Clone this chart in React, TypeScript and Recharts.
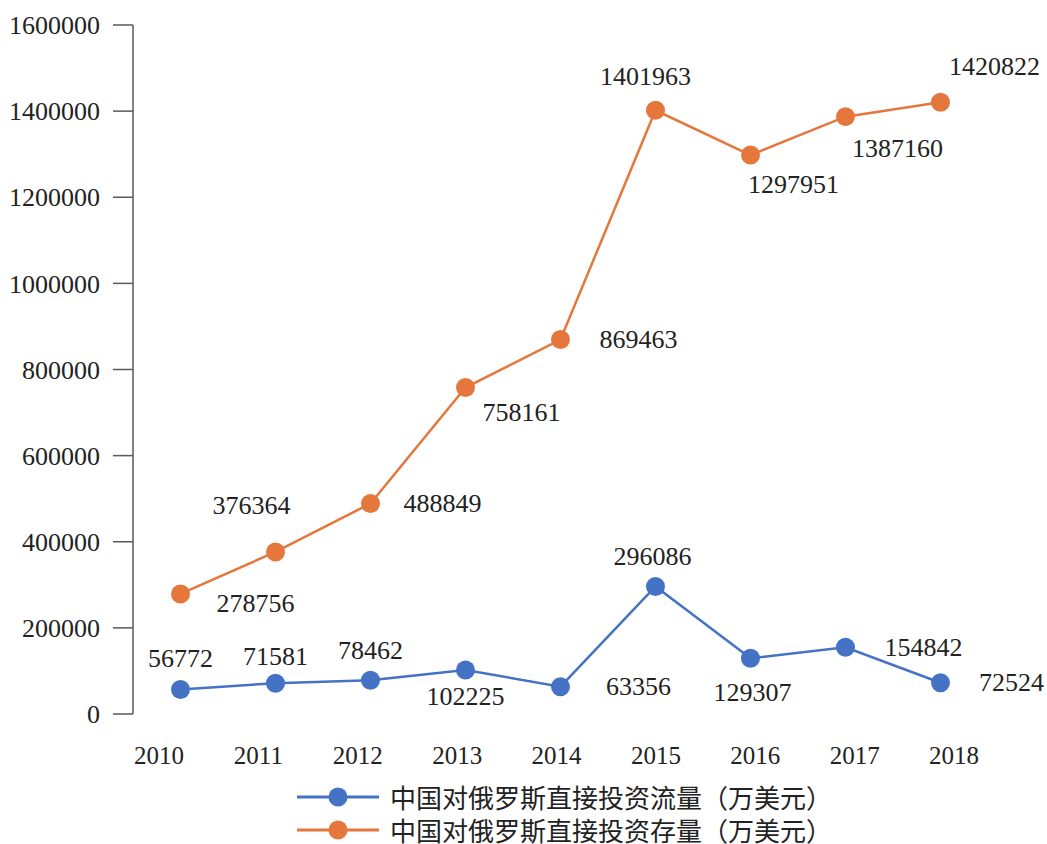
import { LineChart, Line, XAxis, YAxis, Legend, LabelList } from 'recharts'

const years = ['2010', '2011', '2012', '2013', '2014', '2015', '2016', '2017', '2018']
const flow = [56772, 71581, 78462, 102225, 63356, 296086, 129307, 154842, 72524]
const stock = [278756, 376364, 488849, 758161, 869463, 1401963, 1297951, 1387160, 1420822]
const yTicks = [0, 200000, 400000, 600000, 800000, 1000000, 1200000, 1400000, 1600000]

const FLOW_NAME = '中国对俄罗斯直接投资流量（万美元）'
const STOCK_NAME = '中国对俄罗斯直接投资存量（万美元）'

const BLUE = '#4472C4'
const ORANGE = '#E5773D'
const SERIF = '"Liberation Serif", "DejaVu Serif", serif'

// label offsets from each point
const flowLabelPos = [
  [0, -31], [0, -27], [0, -30], [0, 27], [78, 0], [-3, -30], [2, 34], [78, 0], [71, 0],
]
const stockLabelPos = [
  [75, 10], [-24, -46], [72, 0], [56, 25], [78, 0], [-10, -34], [43, 29], [52, 32], [54, -36],
]

const data = years.map((year, i) => ({ year, flow: flow[i], stock: stock[i] }))

const makeLabel = (pos: number[][]) => (props: any) => {
  const { x, y, value, index } = props
  const [dx, dy] = pos[index] || [0, -30]
  return (
    <text
      x={x + dx}
      y={y + dy}
      textAnchor="middle"
      dominantBaseline="central"
      fontFamily={SERIF}
      fontSize={26}
      fill="#222"
    >
      {value}
    </text>
  )
}

const LegendBox = () => (
  <div style={{ paddingLeft: 297, paddingTop: 16, fontFamily: '"Noto Sans CJK SC", sans-serif', fontSize: 26, color: '#222' }}>
    {[
      { name: FLOW_NAME, color: BLUE },
      { name: STOCK_NAME, color: ORANGE },
    ].map((item) => (
      <div key={item.name} style={{ display: 'flex', alignItems: 'center', height: 33 }}>
        <svg width={82} height={24} style={{ marginRight: 11 }}>
          <line x1={0} y1={12} x2={82} y2={12} stroke={item.color} strokeWidth={3} />
          <circle cx={41} cy={12} r={9.5} fill={item.color} />
        </svg>
        <span style={{ whiteSpace: 'nowrap' }}>{item.name}</span>
      </div>
    ))}
  </div>
)

export default function App() {
  return (
    <div style={{ position: 'absolute', left: 0, top: 0, background: '#fff' }}>
      <LineChart
        width={1047}
        height={844}
        data={data}
        margin={{ top: 25, right: 59, left: 0, bottom: 10 }}
      >
        <XAxis
          dataKey="year"
          padding={{ left: 47.5, right: 47.5 }}
          tickLine={false}
          tick={false}
          axisLine={{ stroke: '#595959', strokeWidth: 1.5 }}
          height={0}
        />
        {/* year labels sit a little wider apart than the points in the original */}
        <XAxis
          xAxisId="labels"
          dataKey="year"
          padding={{ left: 26, right: 34 }}
          tickLine={false}
          axisLine={false}
          tick={{ fill: '#222', fontSize: 25, fontFamily: SERIF }}
          tickMargin={26}
          height={50}
        />
        <YAxis
          domain={[0, 1600000]}
          ticks={yTicks}
          width={133}
          interval={0}
          tickSize={20}
          tickMargin={13}
          axisLine={{ stroke: '#595959', strokeWidth: 1.5 }}
          tickLine={{ stroke: '#595959', strokeWidth: 1.5 }}
          tick={{ fill: '#222', fontSize: 26, fontFamily: SERIF }}
        />
        <Legend
          verticalAlign="bottom"
          align="left"
          layout="horizontal"
          wrapperStyle={{ height: 70, left: 0, width: 1047 }}
          content={() => <LegendBox />}
        />
        <Line
          name={FLOW_NAME}
          dataKey="flow"
          stroke={BLUE}
          strokeWidth={2.5}
          dot={{ r: 9.5, fill: BLUE, stroke: BLUE, strokeWidth: 0 }}
          activeDot={false}
          isAnimationActive={false}
        >
          <LabelList dataKey="flow" content={makeLabel(flowLabelPos)} />
        </Line>
        <Line
          name={STOCK_NAME}
          dataKey="stock"
          stroke={ORANGE}
          strokeWidth={2.5}
          dot={{ r: 9.5, fill: ORANGE, stroke: ORANGE, strokeWidth: 0 }}
          activeDot={false}
          isAnimationActive={false}
        >
          <LabelList dataKey="stock" content={makeLabel(stockLabelPos)} />
        </Line>
      </LineChart>
    </div>
  )
}
